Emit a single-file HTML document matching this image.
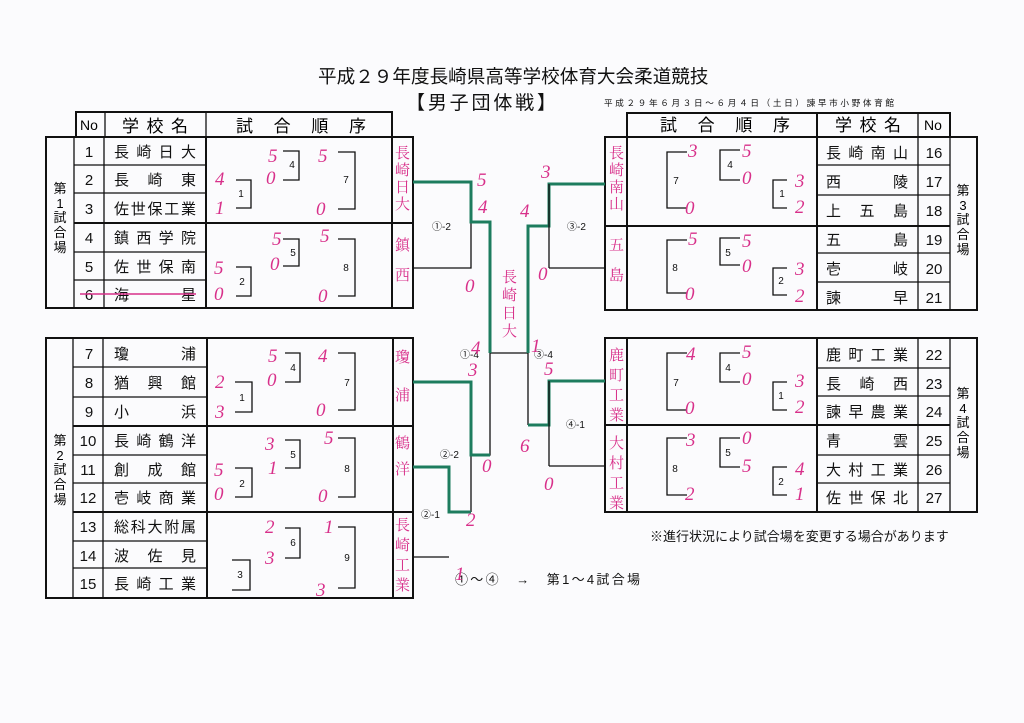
<!DOCTYPE html>
<html><head><meta charset="utf-8"><style>
html,body{margin:0;padding:0;background:#fbfbfd;}
svg{display:block;font-family:"Liberation Sans","Noto Sans CJK JP",sans-serif;}
.b{fill:none;stroke:#111;stroke-width:2}
.t{fill:none;stroke:#111;stroke-width:1.3}
.g{fill:none;stroke:#1d7c5e;stroke-width:3}
.n{font-size:15px;fill:#111}
.s{font-size:10px;fill:#111}
.p{font-family:"Liberation Serif",serif;font-style:italic;fill:#d8308a;font-size:19px}
.pv{fill:#d8308a;font-size:15px;font-family:"Noto Serif CJK SC",serif}
</style></head><body>
<svg width="1024" height="723" viewBox="0 0 1024 723">
<rect width="1024" height="723" fill="#fbfbfd"/>
<text x="318" y="83" font-size="18.6" fill="#111">平成２９年度長崎県高等学校体育大会柔道競技</text>
<text x="406" y="109" font-size="19" fill="#111" textLength="150" lengthAdjust="spacing">【男子団体戦】</text>
<text x="604" y="106" font-size="8.6" fill="#111" textLength="290" lengthAdjust="spacing">平成２９年６月３日～６月４日（土日）諫早市小野体育館</text>

<!-- LEFT BLOCK 1 -->
<rect class="b" x="76" y="112" width="316" height="25"/>
<line class="t" x1="105" y1="112" x2="105" y2="137"/><line class="t" x1="206" y1="112" x2="206" y2="137"/>
<text x="80" y="130" font-size="14">No</text>
<text x="122" y="132" font-size="17" textLength="66" lengthAdjust="spacing">学校名</text>
<text x="236" y="132" font-size="17" textLength="130" lengthAdjust="spacing">試合順序</text>
<rect class="b" x="46" y="137" width="367" height="171"/>
<line class="t" x1="74" y1="137" x2="74" y2="308"/><line class="t" x1="104" y1="137" x2="104" y2="308"/>
<line class="b" x1="206" y1="137" x2="206" y2="308"/><line class="b" x1="392" y1="137" x2="392" y2="308"/>
<line class="t" x1="74" y1="165" x2="206" y2="165"/><line class="t" x1="74" y1="193" x2="206" y2="193"/>
<line class="b" x1="74" y1="223" x2="413" y2="223"/>
<line class="t" x1="74" y1="252" x2="206" y2="252"/><line class="t" x1="74" y1="280" x2="206" y2="280"/>
<g class="n" text-anchor="middle"><text x="89" y="157">1</text><text x="89" y="185">2</text><text x="89" y="214">3</text><text x="89" y="243">4</text><text x="89" y="272">5</text><text x="89" y="300">6</text></g>
<g class="n" font-size="16"><text x="114" y="157" textLength="82" lengthAdjust="spacing">長崎日大</text><text x="114" y="185" textLength="82" lengthAdjust="spacing">長　崎　東</text><text x="114" y="214" textLength="82" lengthAdjust="spacing">佐世保工業</text><text x="114" y="243" textLength="82" lengthAdjust="spacing">鎮西学院</text><text x="114" y="272" textLength="82" lengthAdjust="spacing">佐世保南</text><text x="114" y="300" textLength="82" lengthAdjust="spacing">海　　　星</text></g>
<line x1="80" y1="294" x2="196" y2="294" stroke="#d8308a" stroke-width="1.5"/>
<g font-size="13" text-anchor="middle"><text x="60" y="193">第</text><text x="60" y="208">1</text><text x="60" y="222">試</text><text x="60" y="237">合</text><text x="60" y="252">場</text></g>
<path class="t" d="M236 180H251V208H236M283 151H299V180H283M338 152H355V209H338M236 267H251V296H236M283 239H299V266H283M338 239H355V296H338"/>
<g class="s" text-anchor="middle"><text x="241" y="197">1</text><text x="292" y="168">4</text><text x="346" y="183">7</text><text x="242" y="285">2</text><text x="293" y="256">5</text><text x="346" y="271">8</text></g>
<g class="p"><text x="215" y="185">4</text><text x="215" y="214">1</text><text x="268" y="162">5</text><text x="266" y="184">0</text><text x="318" y="162">5</text><text x="316" y="215">0</text><text x="214" y="274">5</text><text x="214" y="300">0</text><text x="272" y="245">5</text><text x="270" y="270">0</text><text x="320" y="242">5</text><text x="318" y="302">0</text></g>
<g class="pv"><text x="395" y="158">長</text><text x="395" y="175">崎</text><text x="395" y="192">日</text><text x="395" y="209">大</text><text x="395" y="250">鎮</text><text x="395" y="280">西</text></g>

<!-- LEFT BLOCK 2 -->
<rect class="b" x="46" y="338" width="367" height="260"/>
<line class="t" x1="73" y1="338" x2="73" y2="598"/><line class="t" x1="103" y1="338" x2="103" y2="598"/>
<line class="b" x1="207" y1="338" x2="207" y2="598"/><line class="b" x1="393" y1="338" x2="393" y2="598"/>
<path class="t" d="M73 367H207M73 397H207M73 455H207M73 483H207M73 541H207M73 568H207"/>
<path class="b" d="M73 426H413M73 512H413"/>
<g class="n" text-anchor="middle"><text x="89" y="359">7</text><text x="89" y="388">8</text><text x="89" y="417">9</text><text x="88" y="446">10</text><text x="88" y="475">11</text><text x="88" y="503">12</text><text x="88" y="532">13</text><text x="88" y="561">14</text><text x="88" y="589">15</text></g>
<g class="n" font-size="16"><text x="114" y="359" textLength="82" lengthAdjust="spacing">瓊　　　浦</text><text x="114" y="388" textLength="82" lengthAdjust="spacing">猶　興　館</text><text x="114" y="417" textLength="82" lengthAdjust="spacing">小　　　浜</text><text x="114" y="446" textLength="82" lengthAdjust="spacing">長崎鶴洋</text><text x="114" y="475" textLength="82" lengthAdjust="spacing">創　成　館</text><text x="114" y="503" textLength="82" lengthAdjust="spacing">壱岐商業</text><text x="114" y="532" textLength="82" lengthAdjust="spacing">総科大附属</text><text x="114" y="561" textLength="82" lengthAdjust="spacing">波　佐　見</text><text x="114" y="589" textLength="82" lengthAdjust="spacing">長崎工業</text></g>
<g font-size="13" text-anchor="middle"><text x="60" y="445">第</text><text x="60" y="460">2</text><text x="60" y="474">試</text><text x="60" y="489">合</text><text x="60" y="504">場</text></g>
<path class="t" d="M235 382H252V412H235M285 353H300V382H285M338 353H355V410H338M235 468H252V497H235M285 440H300V468H285M338 438H355V497H338M232 560H250V590H232M285 528H300V558H285M338 527H355V588H338"/>
<g class="s" text-anchor="middle"><text x="242" y="401">1</text><text x="293" y="371">4</text><text x="347" y="386">7</text><text x="242" y="487">2</text><text x="293" y="458">5</text><text x="347" y="472">8</text><text x="240" y="578">3</text><text x="293" y="546">6</text><text x="347" y="561">9</text></g>
<g class="p"><text x="215" y="388">2</text><text x="215" y="418">3</text><text x="268" y="362">5</text><text x="267" y="386">0</text><text x="318" y="362">4</text><text x="316" y="416">0</text><text x="214" y="476">5</text><text x="214" y="500">0</text><text x="265" y="450">3</text><text x="268" y="474">1</text><text x="324" y="444">5</text><text x="318" y="502">0</text><text x="265" y="533">2</text><text x="265" y="564">3</text><text x="324" y="533">1</text><text x="316" y="596">3</text></g>
<g class="pv"><text x="395" y="362">瓊</text><text x="395" y="400">浦</text><text x="395" y="448">鶴</text><text x="395" y="474">洋</text><text x="395" y="530">長</text><text x="395" y="550">崎</text><text x="395" y="570">工</text><text x="395" y="590">業</text></g>

<!-- RIGHT BLOCK 3 -->
<rect class="b" x="627" y="113" width="323" height="24"/>
<line class="b" x1="817" y1="113" x2="817" y2="310"/><line class="t" x1="918" y1="113" x2="918" y2="310"/>
<text x="660" y="131" font-size="17" textLength="130" lengthAdjust="spacing">試合順序</text>
<text x="835" y="131" font-size="17" textLength="66" lengthAdjust="spacing">学校名</text>
<text x="924" y="130" font-size="14">No</text>
<rect class="b" x="605" y="137" width="372" height="173"/>
<line class="b" x1="627" y1="113" x2="627" y2="310"/><line class="t" x1="950" y1="113" x2="950" y2="310"/>
<path class="t" d="M817 165H950M817 195H950M817 253H950M817 282H950"/>
<path class="b" d="M605 226H950"/>
<g class="n" font-size="16"><text x="826" y="158" textLength="82" lengthAdjust="spacing">長崎南山</text><text x="826" y="187" textLength="82" lengthAdjust="spacing">西　　　陵</text><text x="826" y="216" textLength="82" lengthAdjust="spacing">上　五　島</text><text x="826" y="245" textLength="82" lengthAdjust="spacing">五　　　島</text><text x="826" y="274" textLength="82" lengthAdjust="spacing">壱　　　岐</text><text x="826" y="303" textLength="82" lengthAdjust="spacing">諫　　　早</text></g>
<g class="n" text-anchor="middle"><text x="934" y="158">16</text><text x="934" y="187">17</text><text x="934" y="216">18</text><text x="934" y="245">19</text><text x="934" y="274">20</text><text x="934" y="303">21</text></g>
<g font-size="13" text-anchor="middle"><text x="963" y="195">第</text><text x="963" y="210">3</text><text x="963" y="224">試</text><text x="963" y="239">合</text><text x="963" y="254">場</text></g>
<path class="t" d="M687 152H667V208H687M740 150H720V180H740M787 180H773V208H787M687 240H667V293H687M740 238H720V265H740M787 268H773V295H787"/>
<g class="s" text-anchor="middle"><text x="676" y="184">7</text><text x="730" y="168">4</text><text x="782" y="197">1</text><text x="675" y="271">8</text><text x="728" y="256">5</text><text x="781" y="284">2</text></g>
<g class="p"><text x="688" y="157">3</text><text x="685" y="214">0</text><text x="742" y="157">5</text><text x="742" y="184">0</text><text x="795" y="187">3</text><text x="795" y="213">2</text><text x="688" y="245">5</text><text x="685" y="300">0</text><text x="742" y="247">5</text><text x="742" y="272">0</text><text x="795" y="275">3</text><text x="795" y="302">2</text></g>
<g class="pv"><text x="609" y="158">長</text><text x="609" y="175">崎</text><text x="609" y="192">南</text><text x="609" y="209">山</text><text x="609" y="250">五</text><text x="609" y="280">島</text></g>

<!-- RIGHT BLOCK 4 -->
<rect class="b" x="605" y="338" width="372" height="174"/>
<line class="b" x1="627" y1="338" x2="627" y2="512"/><line class="b" x1="817" y1="338" x2="817" y2="512"/>
<line class="t" x1="918" y1="338" x2="918" y2="512"/><line class="t" x1="950" y1="338" x2="950" y2="512"/>
<path class="t" d="M817 368H950M817 396H950M817 455H950M817 483H950"/>
<path class="b" d="M605 425H950"/>
<g class="n" font-size="16"><text x="826" y="360" textLength="82" lengthAdjust="spacing">鹿町工業</text><text x="826" y="389" textLength="82" lengthAdjust="spacing">長　崎　西</text><text x="826" y="417" textLength="82" lengthAdjust="spacing">諫早農業</text><text x="826" y="446" textLength="82" lengthAdjust="spacing">青　　　雲</text><text x="826" y="475" textLength="82" lengthAdjust="spacing">大村工業</text><text x="826" y="503" textLength="82" lengthAdjust="spacing">佐世保北</text></g>
<g class="n" text-anchor="middle"><text x="934" y="360">22</text><text x="934" y="389">23</text><text x="934" y="417">24</text><text x="934" y="446">25</text><text x="934" y="475">26</text><text x="934" y="503">27</text></g>
<g font-size="13" text-anchor="middle"><text x="963" y="398">第</text><text x="963" y="413">4</text><text x="963" y="427">試</text><text x="963" y="442">合</text><text x="963" y="457">場</text></g>
<path class="t" d="M687 353H667V410H687M740 353H720V382H740M787 382H773V410H787M687 438H667V495H687M740 438H720V467H740M787 467H773V495H787"/>
<g class="s" text-anchor="middle"><text x="676" y="386">7</text><text x="728" y="371">4</text><text x="781" y="399">1</text><text x="675" y="472">8</text><text x="728" y="456">5</text><text x="781" y="485">2</text></g>
<g class="p"><text x="686" y="360">4</text><text x="685" y="414">0</text><text x="742" y="358">5</text><text x="742" y="385">0</text><text x="795" y="387">3</text><text x="795" y="413">2</text><text x="686" y="446">3</text><text x="685" y="500">2</text><text x="742" y="444">0</text><text x="742" y="472">5</text><text x="795" y="475">4</text><text x="795" y="500">1</text></g>
<g class="pv"><text x="609" y="360">鹿</text><text x="609" y="380">町</text><text x="609" y="400">工</text><text x="609" y="420">業</text><text x="609" y="448">大</text><text x="609" y="468">村</text><text x="609" y="488">工</text><text x="609" y="508">業</text></g>

<text x="650" y="541" font-size="13" fill="#111">※進行状況により試合場を変更する場合があります</text>
<text x="455" y="584" font-size="13" fill="#111" textLength="185" lengthAdjust="spacing">①～④　→　第1～4試合場</text>

<!-- CENTER BRACKET -->
<path class="t" d="M413 268H471V222M549 268H605M549 466H605M413 557H449M471 382V512M471 455H490V222M528 226V425M490 353H528"/>
<path class="t" d="M413 382H471"/>
<path class="g" d="M413 182H471V222H490V353M413 467H449V512H471M413 382H471V455H490M528 353V226H549V184H605M605 381H549V425H528"/>
<path class="t" d="M549 184V268M549 381V466"/>
<g font-size="10" fill="#111"><text x="432" y="230">①-2</text><text x="567" y="230">③-2</text><text x="460" y="358">①-4</text><text x="534" y="358">③-4</text><text x="440" y="458">②-2</text><text x="421" y="518">②-1</text><text x="566" y="428">④-1</text></g>
<g class="p"><text x="477" y="186">5</text><text x="478" y="213">4</text><text x="465" y="292">0</text><text x="471" y="354">4</text><text x="468" y="376">3</text><text x="482" y="472">0</text><text x="466" y="526">2</text><text x="455" y="580">1</text><text x="541" y="178">3</text><text x="520" y="217">4</text><text x="538" y="280">0</text><text x="531" y="352">1</text><text x="544" y="375">5</text><text x="520" y="452">6</text><text x="544" y="490">0</text></g>
<g class="pv" font-size="17"><text x="502" y="282">長</text><text x="502" y="300">崎</text><text x="502" y="318">日</text><text x="502" y="336">大</text></g>
</svg>
</body></html>
